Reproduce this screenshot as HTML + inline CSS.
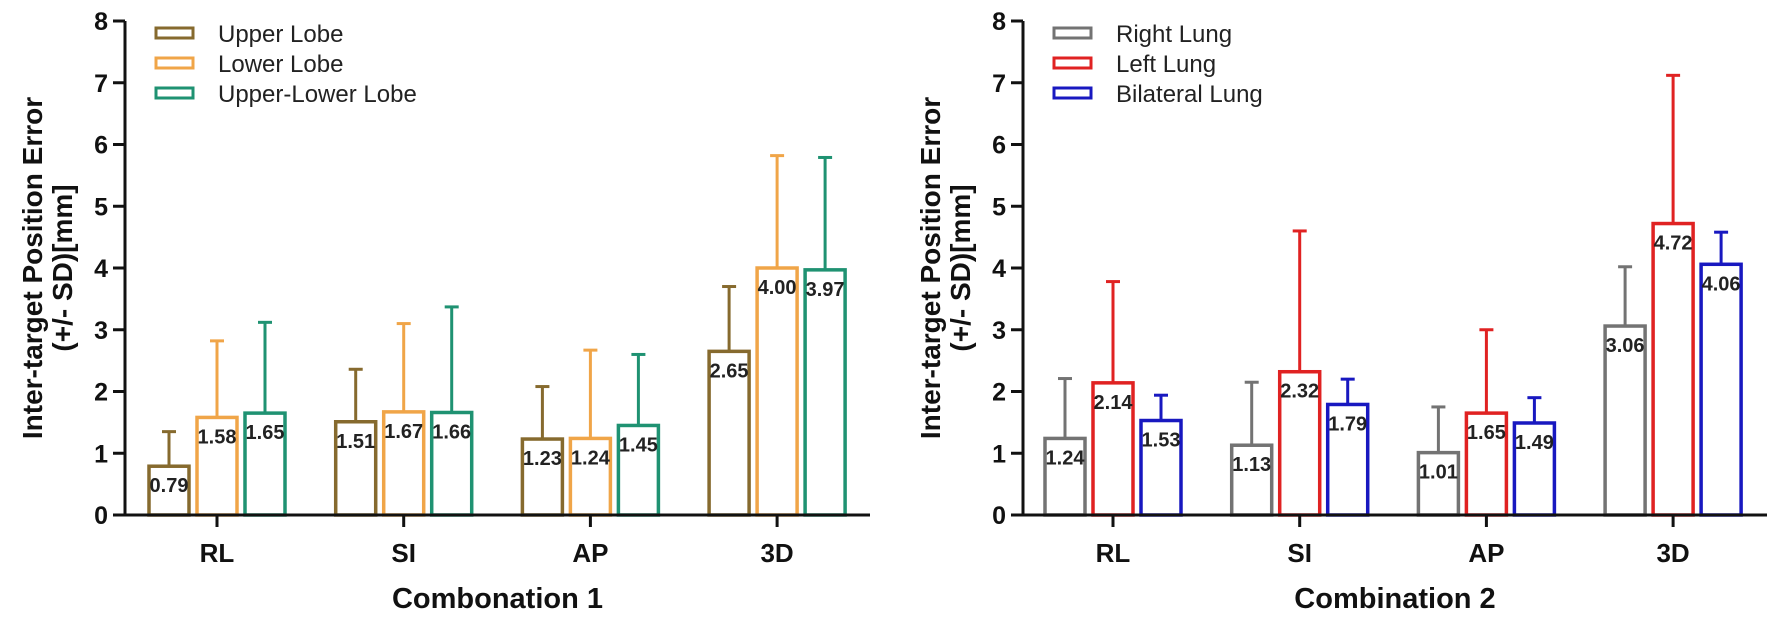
<!DOCTYPE html>
<html><head><meta charset="utf-8"><style>
html,body{margin:0;padding:0;background:#fff;}
svg{display:block;font-family:"Liberation Sans",Arial,sans-serif;}
</style></head><body>
<svg id="chart" width="1769" height="622" viewBox="0 0 1769 622" xmlns="http://www.w3.org/2000/svg"></svg>
<script>
const categories = ["RL","SI","AP","3D"];
const yTicks = [0,1,2,3,4,5,6,7,8];
// Combination 1
const c1Names = ["Upper Lobe","Lower Lobe","Upper-Lower Lobe"];
const c1Upper = [0.79,1.51,1.23,2.65];
const c1Lower = [1.58,1.67,1.24,4.00];
const c1UpLow = [1.65,1.66,1.45,3.97];
const c1UpperSD = [0.56,0.85,0.85,1.05];
const c1LowerSD = [1.24,1.43,1.43,1.82];
const c1UpLowSD = [1.47,1.71,1.15,1.82];
// Combination 2
const c2Names = ["Right Lung","Left Lung","Bilateral Lung"];
const c2Right = [1.24,1.13,1.01,3.06];
const c2Left = [2.14,2.32,1.65,4.72];
const c2Bi = [1.53,1.79,1.49,4.06];
const c2RightSD = [0.97,1.02,0.74,0.96];
const c2LeftSD = [1.64,2.28,1.35,2.40];
const c2BiSD = [0.41,0.41,0.41,0.52];

const NS="http://www.w3.org/2000/svg";
const svg=document.getElementById('chart');
function mk(tag,attrs,parent){const e=document.createElementNS(NS,tag);for(const k in attrs)e.setAttribute(k,attrs[k]);(parent||svg).appendChild(e);return e;}

function drawPanel(opt){
  const g=mk('g',{});
  
  
  const y0=515, unit=(515-21)/8;
  const y=v=>y0-v*unit;
  const x=i=>opt.firstX+i*186.7;
  const ya=mk('line',{x1:opt.axisX,y1:y(8),x2:opt.axisX,y2:y0,stroke:'#111','stroke-width':3},g);
  
  
  yTicks.forEach(t=>{
    const tk=mk('line',{x1:opt.axisX-12,y1:y(t),x2:opt.axisX,y2:y(t),stroke:'#111','stroke-width':3},g);
    
    
    const tl=mk('text',{x:opt.axisX-17,y:y(t)+9,'text-anchor':'end','font-size':25,'font-weight':'bold',fill:'#111'},g);
    tl.textContent=t;
    
    
  });
  const colors=opt.colors;
  opt.series.forEach((s,si)=>{
    s.forEach((v,ci)=>{
      const cx=x(ci)+(si-1)*48, w=40;
      const sd=opt.sds[si][ci];
      const eb=mk('line',{x1:cx,y1:y(v),x2:cx,y2:y(v+sd),stroke:colors[si],'stroke-width':3},g);
      
      
      const cap=mk('line',{x1:cx-7,y1:y(v+sd),x2:cx+7,y2:y(v+sd),stroke:colors[si],'stroke-width':3},g);
      
      
      const r=mk('rect',{x:cx-w/2,y:y(v),width:w,height:y0-y(v),fill:'#fff',stroke:colors[si],'stroke-width':3.5},g);
      
      
      const lb=mk('text',{x:cx,y:y(v)+26,'text-anchor':'middle','font-size':20,'font-weight':'bold',fill:'#222'},g);
      lb.textContent=v.toFixed(2);
      
      
    });
  });
  const xa=mk('line',{x1:opt.axisX-2,y1:y0,x2:opt.axisEnd,y2:y0,stroke:'#111','stroke-width':3},g);
  
  
  categories.forEach((c,ci)=>{
    const tk=mk('line',{x1:x(ci),y1:y0,x2:x(ci),y2:y0+12,stroke:'#111','stroke-width':3},g);
    
    
    const tl=mk('text',{x:x(ci),y:562,'text-anchor':'middle','font-size':26,'font-weight':'bold',fill:'#111'},g);
    tl.textContent=c;
    
    
  });
  const xt=mk('text',{x:(opt.axisX+opt.axisEnd)/2,y:608,'text-anchor':'middle','font-size':29,'font-weight':'bold',fill:'#111'},g);
  xt.textContent=opt.xTitle;
  
  
  const yt=mk('text',{transform:'translate('+(opt.axisX-83)+',268) rotate(-90)','text-anchor':'middle','font-size':28,'font-weight':'bold',fill:'#111'},g);
  
  
  const t1=mk('tspan',{x:0,y:0},yt); t1.textContent='Inter-target Position Error';
  const t2=mk('tspan',{x:0,y:30},yt); t2.textContent='(+/- SD)[mm]';
  opt.names.forEach((n,i)=>{
    const ly=33+i*30;
    const sw=mk('rect',{x:opt.axisX+31,y:ly-5,width:37,height:10,fill:'#fff',stroke:colors[i],'stroke-width':3},g);
    
    
    const lt=mk('text',{x:opt.axisX+93,y:ly+9,'font-size':24,fill:'#222'},g);
    lt.textContent=n;
    
    
  });
}
drawPanel({name:'combination-1-chart',axisX:125,axisEnd:870,firstX:217,colors:['#866a2e','#f0a548','#1f9272'],
  series:[c1Upper,c1Lower,c1UpLow],sds:[c1UpperSD,c1LowerSD,c1UpLowSD],names:c1Names,xTitle:'Combonation 1'});
drawPanel({name:'combination-2-chart',axisX:1023,axisEnd:1767,firstX:1113,colors:['#737373','#e02222','#1818c0'],
  series:[c2Right,c2Left,c2Bi],sds:[c2RightSD,c2LeftSD,c2BiSD],names:c2Names,xTitle:'Combination 2'});
</script>
</body></html>
